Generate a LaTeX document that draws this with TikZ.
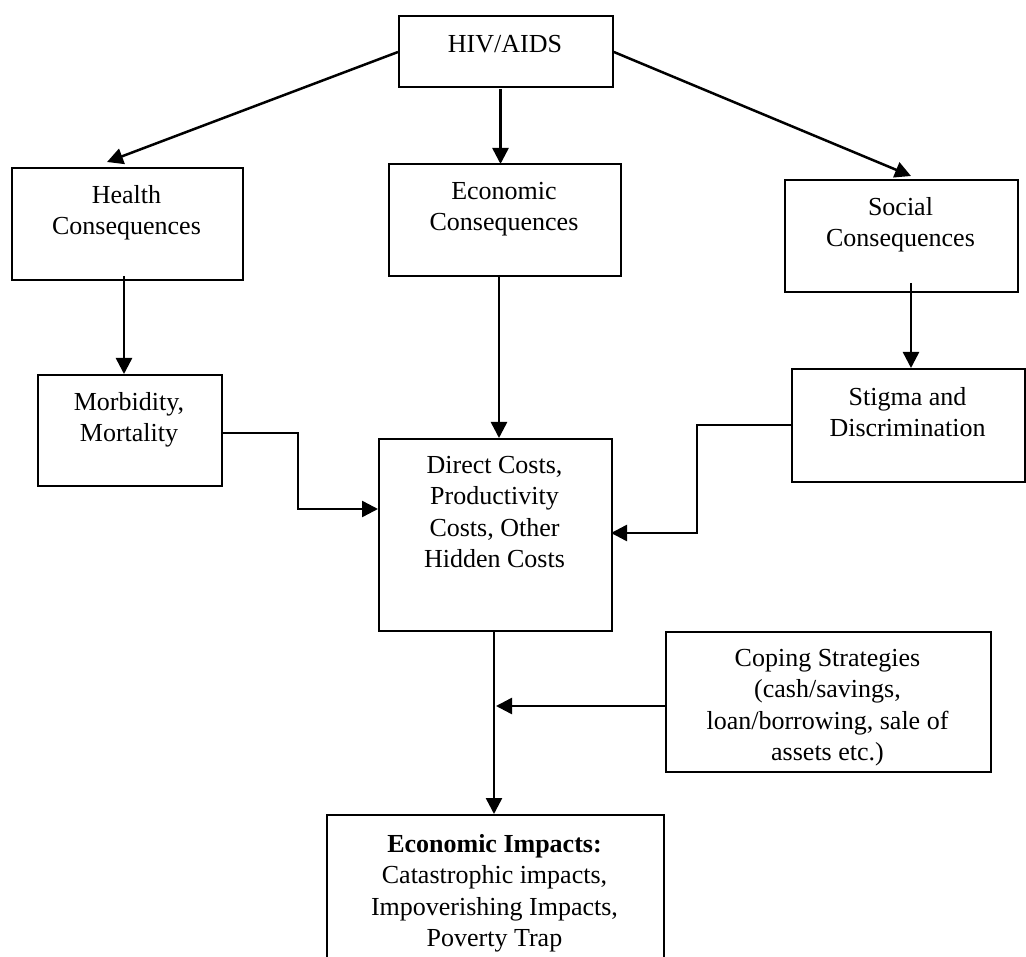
\documentclass[tikz,border=0pt]{standalone}
\usepackage{fontspec}
\setmainfont{Liberation Serif}
\usetikzlibrary{arrows.meta,calc}
\begin{document}
\begin{tikzpicture}[x=1pt,y=-1pt,
  box/.style={draw=black,line width=1.9pt,rectangle,anchor=north west,inner sep=0pt},
  txt/.style={anchor=north,inner sep=0pt,align=center,font=\fontsize{26}{31.5}\selectfont},
  conn/.style={line width=2.5pt,-{Triangle[length=16pt,width=16pt]}}]
\useasboundingbox (0,0) rectangle (1026,957);
% boxes
\node[box,minimum width=214pt,minimum height=71pt] (hiv) at (398,15) {};
\node[box,minimum width=231pt,minimum height=112pt] (health) at (11,167) {};
\node[box,minimum width=232pt,minimum height=112pt] (econ) at (388,163) {};
\node[box,minimum width=233pt,minimum height=112pt] (social) at (784,179) {};
\node[box,minimum width=184pt,minimum height=111pt] (morb) at (37,374) {};
\node[box,minimum width=233pt,minimum height=113pt] (stigma) at (791,368) {};
\node[box,minimum width=233pt,minimum height=192pt] (direct) at (378,438) {};
\node[box,minimum width=325pt,minimum height=140pt] (coping) at (665,631) {};
\node[box,minimum width=337pt,minimum height=150pt] (impact) at (326,814) {};
% texts
\node[txt] (hivt) at (505,35) {HIV/AIDS};
\node[txt] (healtht) at (126.5,185) {Health\\Consequences};
\node[txt] (econt) at (504,182) {Economic\\Consequences};
\node[txt] (socialt) at (900.5,197) {Social\\Consequences};
\node[txt] (morbt) at (129,392) {Morbidity,\\Mortality};
\node[txt] (stigmat) at (907.5,387) {Stigma and\\Discrimination};
\node[txt] (directt) at (494.5,456) {Direct Costs,\\Productivity\\Costs, Other\\Hidden Costs};
\node[txt] (copingt) at (827.5,649) {Coping Strategies\\(cash/savings,\\loan/borrowing, sale of\\assets etc.)};
\node[txt] (impactt) at (494.5,834) {\textbf{Economic Impacts:}\\Catastrophic impacts,\\Impoverishing Impacts,\\Poverty Trap};
% connector points
\coordinate (hl) at (107,162);
\coordinate (hd0) at (500.5,89);
\coordinate (hd1) at (500.5,164);
\coordinate (hr) at (911,176);
\coordinate (h0) at (124,276);
\coordinate (h1) at (124,374);
\coordinate (e0) at (499,275);
\coordinate (e1) at (499,438);
\coordinate (s0) at (911,283);
\coordinate (s1) at (911,368);
\coordinate (m0) at (221,433);
\coordinate (m1) at (298,433);
\coordinate (m2) at (298,509);
\coordinate (m3) at (378,509);
\coordinate (g0) at (791,425);
\coordinate (g1) at (697,425);
\coordinate (g2) at (697,533);
\coordinate (g3) at (611,533);
\coordinate (d0) at (494,630);
\coordinate (d1) at (494,814);
\coordinate (c0) at (665,706);
\coordinate (c1) at (496,706);
% connectors
\draw[conn] (hiv.west|-0,52) -- (hl);
\draw[conn] (hd0) -- (hd1);
\draw[conn] (hiv.east|-0,52) -- (hr);
\draw[conn] (h0) -- (h1);
\draw[conn] (e0) -- (e1);
\draw[conn] (s0) -- (s1);
\draw[conn] (m0) -- (m1) -- (m2) -- (m3);
\draw[conn] (g0) -- (g1) -- (g2) -- (g3);
\draw[conn] (d0) -- (d1);
\draw[conn] (c0) -- (c1);
\end{tikzpicture}
\end{document}
